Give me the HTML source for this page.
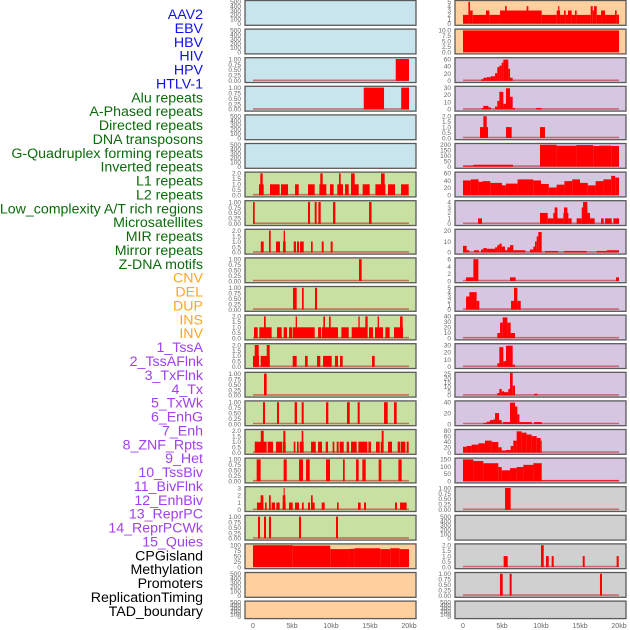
<!DOCTYPE html>
<html><head><meta charset="utf-8">
<style>
html,body{margin:0;padding:0;background:#fff;}
svg{display:block;font-family:"Liberation Sans",sans-serif;}
</style></head>
<body>
<svg id="chart" width="630" height="630" viewBox="0 0 630 630"></svg>
<script>
const labelNames = ["AAV2","EBV","HBV","HIV","HPV","HTLV-1","Alu repeats","A-Phased repeats","Directed repeats","DNA transposons","G-Quadruplex forming repeats","Inverted repeats","L1 repeats","L2 repeats","Low_complexity A/T rich regions","Microsatellites","MIR repeats","Mirror repeats","Z-DNA motifs","CNV","DEL","DUP","INS","INV","1_TssA","2_TssAFlnk","3_TxFlnk","4_Tx","5_TxWk","6_EnhG","7_Enh","8_ZNF_Rpts","9_Het","10_TssBiv","11_BivFlnk","12_EnhBiv","13_ReprPC","14_ReprPCWk","15_Quies","CPGisland","Methylation","Promoters","ReplicationTiming","TAD_boundary"];
const labelGroups = [0,0,0,0,0,0,1,1,1,1,1,1,1,1,1,1,1,1,1,2,2,2,2,2,3,3,3,3,3,3,3,3,3,3,3,3,3,3,3,4,4,4,4,4];
const groupColors = ["#1010ee","#0b6b0b","#ffa520","#a040f0","#000000"];

const xTickValues = [0,5,10,15,20];
const xTickLabels = ["0","5kb","10kb","15kb","20kb"];

const E = ["0","100","200","300","400","500"];
const T1 = ["0.00","0.25","0.50","0.75","1.00"];
const T2 = ["0.0","0.5","1.0","1.5","2.0"];

const leftBg = ["#c8e4ec","#c8e4ec","#c8e4ec","#c8e4ec","#c8e4ec","#c8e4ec","#c8e0a2","#c8e0a2","#c8e0a2","#c8e0a2","#c8e0a2","#c8e0a2","#c8e0a2","#c8e0a2","#c8e0a2","#c8e0a2","#c8e0a2","#c8e0a2","#c8e0a2","#ffd09e","#ffd09e","#ffd09e"];
const rightBg = ["#ffd09e","#ffd09e","#d6c6e2","#d6c6e2","#d6c6e2","#d6c6e2","#d6c6e2","#d6c6e2","#d6c6e2","#d6c6e2","#d6c6e2","#d6c6e2","#d6c6e2","#d6c6e2","#d6c6e2","#d6c6e2","#d6c6e2","#d0d0d0","#d0d0d0","#d0d0d0","#d0d0d0","#d0d0d0"];

const leftTicks = [E,E,T1,T1,E,E,T2,T1,T2,T1,T1,T2,T2,T1,T1,T2,T1,["0","1","2","3"],T1,["0","25","50","75","100"],E,E];
const rightTicks = [["0","1","2","3","4","5"],["0.0","2.5","5.0","7.5","10.0"],["0","20","40","60"],["0","10","20","30"],T2,["0","50","100","150","200"],["0","20","40","60"],["0","1","2","3","4"],["0","10","20"],["0","2","4","6"],["0","1","2","3","4","5"],["0","10","20","30","40"],["0","10","20","30"],["0","5","10","15","20","25"],["0","20","40"],["0","20","40","60","80"],["0","50","100","150"],T1,E,T2,T1,E];
const leftMax = [500,500,1,1,500,500,2,1,2,1,1,2,2,1,1,2,1,3,1,100,500,500];
const rightMax = [5,10,72,31,2,235,62,4,30,6,5,42,31,27,56,82,200,1,500,2,1,500];

/* segments [startKb, endKb, value] */
const leftSegs = [
 [],[],
 [[18.3,20,1]],
 [[14.2,16.8,1],[19,20,1]],
 [],[],
 [[0.77,1.37,1],[0.94,1.24,2],[2.18,3.42,1],[3.59,4.49,1],[5.39,5.86,1],[7.05,7.91,1],[8.51,9.4,1],[8.63,8.93,2],[9.87,10.34,1],[10.81,11.54,1],[11.03,11.24,2],[11.8,12.27,1],[12.57,13.55,1],[12.57,13.04,2],[14.06,14.96,1],[15.69,16.97,1],[16.41,16.88,2],[17.31,18.21,1],[18.98,19.96,1]],
 [[0,0.22,1],[7.05,7.31,1],[7.91,8.16,1],[8.38,8.68,1],[10.26,10.56,1],[14.88,15.2,1]],
 [[1,1.37,1],[2.05,2.27,2],[2.95,3.46,1],[3.85,4.19,1],[3.93,4.1,2],[5.22,5.51,1],[5.64,5.9,1],[6.03,6.5,1],[7.44,7.65,1],[8.81,9.06,1],[9.96,10.21,1]],
 [[13.59,13.93,1]],
 [[5.13,5.6,1],[6.28,6.5,1],[7.95,8.21,1]],
 [[0.13,0.6,1],[0.81,2.39,1],[1.41,1.63,2],[3.08,3.68,1],[3.93,4.36,1],[4.62,5.05,1],[5.13,7.91,1],[5.47,5.64,2],[8.34,8.76,1],[8.85,10.9,1],[9.02,9.23,2],[9.75,9.96,2],[11.33,12.27,1],[12.65,14.62,1],[13.51,13.68,2],[14.4,14.7,2],[14.87,15.39,1],[15.64,16.67,1],[15.98,16.15,2],[16.97,17.52,1],[18.08,19.23,1],[18.85,19.19,2]],
 [[0,0.77,1],[0.22,0.73,2],[0.98,2.14,1],[1.76,2.14,2],[5.09,5.6,1],[6.67,7.01,1],[8.21,8.63,1],[8.98,10.09,1],[10.51,10.9,1],[11.16,11.5,1],[15.26,15.6,1]],
 [[1.41,1.75,1]],
 [[1.28,1.54,1],[3.08,3.33,1],[5.34,5.64,1],[6.24,6.5,1],[9.36,9.66,1],[12.05,12.4,1],[13.42,13.68,1],[16.8,17.27,1],[18.08,18.42,1]],
 [[0.22,1.75,1],[1,1.37,2],[1.88,2.57,1],[2.95,3.72,1],[3.81,4.19,1],[3.89,4.15,2],[5.22,5.43,1],[5.64,5.86,1],[5.99,6.5,1],[6.24,6.45,2],[7.44,8.04,1],[8.34,8.85,1],[9.32,9.62,1],[10.21,10.43,1],[10.73,10.98,1],[11.11,11.63,1],[12.01,12.31,1],[12.57,13.29,1],[13.51,14.66,1],[14.79,15.13,1],[15.77,16.24,1],[16.37,16.63,1],[16.5,16.75,2],[17.31,17.82,1],[18.55,18.85,1],[18.93,19.53,1],[19.7,19.96,1]],
 [[0.47,0.98,1],[3.93,4.32,1],[5.9,6.41,1],[6.8,7.27,1],[9.36,9.87,1],[11.54,11.76,1],[13.21,13.55,1],[14.02,14.45,1],[16.11,16.45,1],[18.64,19.06,1]],
 [[0.51,1.33,1],[0.98,1.33,2],[1.54,1.75,1],[2.05,2.27,2],[2.39,2.82,1],[2.99,3.42,1],[3.81,4.19,1],[3.81,4.15,2],[3.93,4.06,3],[4.62,5.09,1],[5.39,5.9,1],[6.28,6.5,1],[7.05,7.31,1],[7.44,7.91,1],[7.44,7.65,2],[8.81,9.19,1],[10.77,10.98,1],[13.46,13.8,1],[14.23,14.49,1],[18.21,18.46,1],[18.85,19.7,1]],
 [[0.64,0.9,1],[1.41,1.67,1],[2.05,2.31,1],[5.9,6.16,1],[10.64,10.9,1]],
 [[0,5.1,100],[5.1,9.9,98],[9.9,12.3,82],[12.3,13,83],[13,16.3,86],[16.3,17.6,82],[17.6,18.8,86],[18.8,20,82]],
 [],[]
];
const rightSegs = [
 [[0,0.69,2],[0.69,0.9,5],[0.9,1.24,3],[1.24,2.95,2],[2.95,3.38,3],[3.38,4.75,2],[4.75,10.09,3],[5.39,5.6,4],[8.16,8.38,4],[10.09,12.01,2],[12.01,12.44,3],[12.2,12.35,4],[12.44,12.95,2],[12.95,13.16,3],[13.16,13.46,2],[13.46,13.93,3],[13.93,14.36,2],[14.36,14.57,3],[14.57,16.37,2],[16.37,16.63,4],[16.63,16.8,3],[16.8,17.14,4],[17.14,17.7,2],[17.7,18.21,3],[18.21,19.49,2],[19.49,19.7,3],[19.7,20,2]],
 [[0,20,10]],
 [[2.31,2.61,5],[2.61,3.04,10],[3.04,3.55,12],[3.55,4.11,15],[4.11,4.4,25],[4.4,4.66,45],[4.66,4.96,50],[4.96,5.17,60],[5.17,5.81,70],[5.81,6.03,40],[6.03,6.37,10]],
 [[2.4,2.61,2],[2.61,3.25,5],[3.25,3.55,3],[4.11,4.4,4],[4.4,4.66,12],[4.66,5.17,25],[5.17,5.51,8],[5.51,6.03,30],[6.03,6.37,18],[6.37,6.67,2],[9.36,10.09,2]],
 [[2.18,3.21,1],[2.61,3.04,2],[5.51,6.24,1],[9.87,10.51,1]],
 [[0,1.33,10],[1.33,6.41,20],[9.87,12,235],[12,14.5,225],[14.5,16.7,232],[16.7,17.5,222],[17.5,19,226],[19,20,222]],
 [[0,1,42],[1,2,45],[2,2.5,38],[2.5,3.5,40],[3.5,5,35],[5,5.5,28],[5.5,7,33],[7,9,45],[9,10,42],[10,11,32],[11,12,22],[12,13,30],[13,14,40],[14,15,45],[15,16,35],[16,17,28],[17,18,40],[18,19,45],[19,19.5,55],[19.5,20,50]],
 [[1.93,2.44,1],[9.87,10.86,2],[10.86,11.58,1],[11.58,12.1,2],[11.75,12.1,3],[12.1,12.87,1],[12.87,13.51,2],[12.95,13.38,3],[13.51,13.93,1],[14.57,15.22,1],[15.22,15.94,3],[15.39,15.94,4],[15.94,16.28,2],[16.28,16.88,1],[17.7,18.04,1],[18.21,19.06,1],[19.28,20,1]],
 [[0,0.47,9],[0.47,0.8,3],[1.41,2.05,3],[2.31,2.61,4],[2.61,3.04,6],[3.04,4.11,5],[4.11,4.4,7],[4.4,4.66,10],[4.66,4.96,12],[4.96,5.39,8],[5.39,5.69,3],[5.69,6.03,7],[6.03,6.45,10],[6.45,7.99,3],[8.59,9.02,4],[9.02,9.23,8],[9.23,9.45,15],[9.45,9.66,22],[9.66,10.09,28],[10.51,12.22,2],[12.95,15.86,2],[17.14,18.42,2],[18.42,20,3]],
 [[0.39,1.33,1],[1.33,1.97,6],[6.03,6.75,1],[19.62,20,1]],
 [[0.39,0.9,3],[0.81,1.75,4],[1.75,2.09,2],[6.16,6.54,2],[6.54,6.97,5],[6.97,7.4,2]],
 [[4.4,4.75,10],[4.75,5.09,30],[5.09,5.69,40],[5.69,6.11,30],[6.11,6.67,10]],
 [[4.4,4.66,5],[4.66,5.17,28],[5.17,5.51,8],[5.51,6.37,30],[6.37,6.67,3]],
 [[4.4,4.66,3],[4.66,4.96,8],[4.96,5.26,5],[5.26,5.81,4],[5.81,6.03,8],[6.03,6.37,28],[6.37,6.67,12],[9.15,9.53,2]],
 [[2.61,3.04,3],[3.04,3.46,6],[3.46,3.89,10],[3.89,4.11,12],[4.11,4.62,28],[4.62,4.96,10],[5.09,6.03,5],[6.03,6.67,55],[6.67,6.97,45],[6.97,7.23,25],[7.23,8.81,5],[9.11,10.09,5]],
 [[0,0.47,22],[0.47,1.11,25],[1.11,1.97,30],[1.97,2.82,35],[2.82,3.68,45],[3.68,4.53,40],[4.53,4.96,20],[4.96,5.51,8],[5.51,6.11,10],[6.11,6.45,25],[6.45,6.88,45],[6.88,7.52,80],[7.52,8.16,75],[8.16,8.81,68],[8.81,9.45,62],[9.45,9.96,55],[9.96,10.09,45]],
 [[0,1.33,200],[1.33,2.61,185],[2.61,4.53,165],[4.53,4.96,130],[4.96,6.03,100],[6.03,6.88,120],[6.88,7.74,130],[7.74,9.02,150],[9.02,10.09,165],[10.09,20,8]],
 [[5.39,6.11,1]],
 [],
 [[5.21,5.73,1],[10,10.35,2],[10.64,10.99,1],[11.37,11.63,1],[15.35,15.6,1],[19.7,19.96,1]],
 [[4.74,5.09,1],[5.98,6.24,1],[17.56,17.82,1]],
 []
];

const NS = "http://www.w3.org/2000/svg";
const svg = document.getElementById("chart");
function mk(tag, attrs, parent){
  const el = document.createElementNS(NS, tag);
  for (const k in attrs) el.setAttribute(k, attrs[k]);
  (parent||svg).appendChild(el);
  return el;
}

// labels
const labelTop = 14, labelStep = 13.88;
labelNames.forEach((n,i)=>{
  const t = mk("text",{x:203,y:labelTop+i*labelStep+5,"text-anchor":"end","font-size":"14.2",fill:groupColors[labelGroups[i]]});
  t.textContent = n;
  
  
});

const rowStep = 28.6, panelH = 24.8;
function panelTop(i){ return i*rowStep; }
function panelHeight(i){ return i===21 ? 17.5 : panelH; }

function drawColumn(colX, x0px, bgs, ticks, maxes, segs, side){
  const xScale = kb => x0px + kb*7.8;
  for (let i=0;i<22;i++){
    const top = panelTop(i), h = panelHeight(i);
    const g = mk("g",{});
    
    
    mk("rect",{x:colX,y:top+0.5,width:171,height:h,fill:bgs[i]},g);
    const yTop = top+1.8, yBot = top+h-1.2;
    const yScale = v => yBot - (v/maxes[i])*(yBot-yTop);
    const s = segs[i];
    if (s.length){
      mk("line",{x1:xScale(0),x2:xScale(20),y1:yBot-0.5,y2:yBot-0.5,stroke:"rgba(190,40,40,0.6)","stroke-width":1.6},g);
    }
    s.forEach(d=>{
      const r = mk("rect",{x:xScale(d[0]),y:yScale(d[2]),width:Math.max(0.8,xScale(d[1])-xScale(d[0])),height:yBot-yScale(d[2]),fill:"#ff0000"},g);
      
      
    });
    mk("rect",{x:colX,y:top+0.5,width:171,height:h,fill:"none",stroke:"#5a5a5a","stroke-width":1.3},g);
    const tl = ticks[i];
    const n = tl.length;
    tl.forEach((lab,k)=>{
      const v = parseFloat(lab);
      const topVal = parseFloat(tl[n-1]);
      const yy = yBot - (v/topVal)*(yBot-yTop);
      const t = mk("text",{x:colX-4,y:yy+2.3,"text-anchor":"end","font-size":"6.5",fill:"#666"},g);
      t.textContent = lab;
      
      
    });
  }
  xTickValues.forEach((v,k)=>{
    const t = mk("text",{x:xScale(v),y:628,"text-anchor":"middle","font-size":"7",fill:"#666"});
    t.textContent = xTickLabels[k];
    
    
  });
}
drawColumn(245, 253, leftBg, leftTicks, leftMax, leftSegs, "left");
drawColumn(455, 463, rightBg, rightTicks, rightMax, rightSegs, "right");
</script>
</body></html>
